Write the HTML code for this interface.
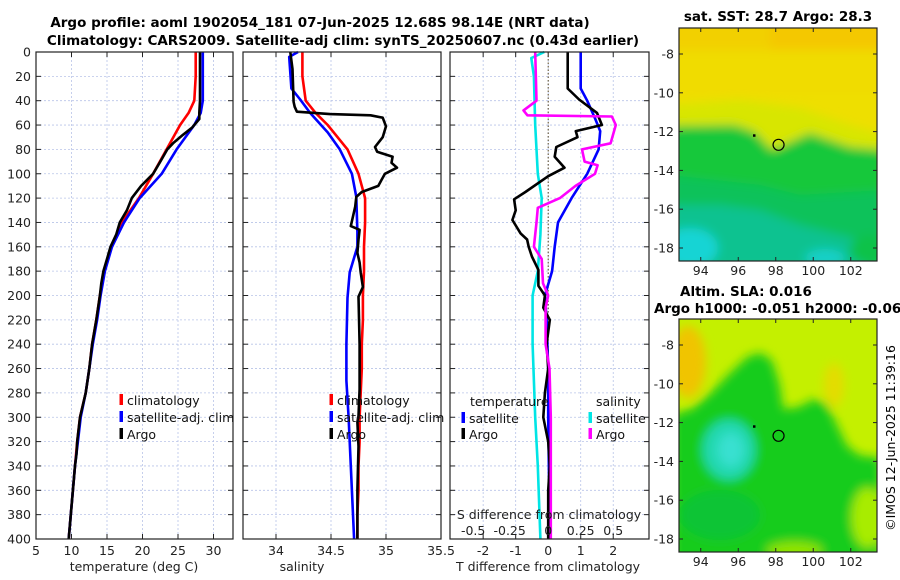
<!DOCTYPE html>
<html><head><meta charset="utf-8">
<style>
html,body{margin:0;padding:0;background:#fff;}
svg{display:block;font-family:"DejaVu Sans","Liberation Sans",sans-serif;}
</style></head>
<body>
<svg id="fig" width="900" height="580" viewBox="0 0 900 580" xmlns="http://www.w3.org/2000/svg">
<defs>
  <filter id="blur1" x="-20%" y="-20%" width="140%" height="140%"><feGaussianBlur stdDeviation="5"/></filter>
  <clipPath id="clipTop"><rect x="679" y="28" width="198" height="233"/></clipPath>
  <clipPath id="clipBot"><rect x="679" y="319" width="198" height="233"/></clipPath>
</defs>
<text x="320" y="27" text-anchor="middle" font-size="13.5" font-weight="bold">Argo profile: aoml 1902054_181 07-Jun-2025 12.68S 98.14E (NRT data)</text>
<text x="343" y="45" text-anchor="middle" font-size="13.5" font-weight="bold">Climatology: CARS2009. Satellite-adj clim: synTS_20250607.nc (0.43d earlier)</text>
<g id="plots"></g>
<g id="maps"></g>
<text transform="translate(895,438) rotate(-90)" text-anchor="middle" font-size="12.5">©IMOS 12-Jun-2025 11:39:16</text>
</svg>
<script>
// ---------- data ----------
const climDepth = [0,20,40,50,60,80,100,120,140,160,180,200,220,240,260,280,300,320,340,360,380,400];
const tempClim = [27.5,27.5,27.3,26.5,25.3,23.4,21.5,19.5,17.1,15.6,14.6,14.0,13.5,12.9,12.5,12.0,11.2,10.8,10.5,10.2,9.9,9.6];
const tempSat = [28.5,28.5,28.5,28.2,27.3,24.8,22.7,19.6,17.4,15.7,14.7,14.1,13.6,13.0,12.5,12.0,11.3,10.9,10.5,10.2,9.9,9.6];
const argoDepth = [0,10,20,30,40,50,55,62,68,75,80,90,100,110,120,130,140,150,160,170,180,190,200,220,240,260,280,300,310,320,330,340,360,380,400];
const tempArgo = [28.1,28.1,28.1,28.1,28.1,28.0,28.0,27.0,25.7,24.3,23.5,22.5,21.5,19.8,18.5,17.8,16.8,16.3,15.5,15.0,14.5,14.2,14.0,13.5,12.9,12.5,12.0,11.2,11.0,10.8,10.7,10.5,10.2,9.9,9.6];
const salClim = [34.24,34.24,34.27,34.36,34.47,34.65,34.75,34.81,34.81,34.80,34.80,34.79,34.79,34.78,34.78,34.77,34.76,34.76,34.75,34.75,34.74,34.74];
const salSatDepth = [0,4,30,39,50,66,80,100,119,148,160,181,202,240,270,300,340,400];
const salSat = [34.2,34.12,34.14,34.22,34.31,34.47,34.58,34.69,34.73,34.74,34.74,34.67,34.65,34.64,34.64,34.66,34.68,34.71];
const salArgoDepth = [0,14,41,45,49,51,52,54,61,70,78,82,86,91,95,100,105,110,115,119,127,135,143,146,154,165,173,181,193,201,240,269,277,299,304,324,360,400];
const salArgo = [34.13,34.15,34.16,34.17,34.19,34.49,34.86,34.97,35.0,34.97,34.9,34.92,35.06,35.05,35.1,34.99,34.96,34.93,34.78,34.73,34.72,34.70,34.68,34.76,34.75,34.74,34.76,34.77,34.79,34.75,34.76,34.76,34.76,34.75,34.74,34.75,34.74,34.74];
const tdArgoDepth = [0,30,39,50,60,65,70,78,86,95,102,115,121,130,138,149,154,160,168,179,192,200,210,220,240,260,280,300,320,340,360,400];
const tdArgo = [0.6,0.6,0.95,1.5,1.65,0.85,0.9,0.25,0.2,0.5,0,-0.7,-1.05,-1.0,-1.1,-0.85,-0.65,-0.6,-0.5,-0.3,-0.3,-0.1,-0.15,0.05,-0.05,0,-0.1,-0.15,0.0,0.05,0.0,0.0];
const tdSatDepth = [0,30,40,55,65,80,100,120,140,160,180,200,220,260,300,400];
const tdSat = [1.0,1.0,1.2,1.45,1.6,1.55,1.2,0.72,0.3,0.2,0.12,-0.1,-0.05,0,0.0,0.05];
const sdArgoDepth = [0,40,48,52,53,60,75,80,90,93,100,110,120,128,140,160,170,190,200,210,240,260,300,340,400];
const sdArgo = [-0.1,-0.09,-0.19,-0.16,0.49,0.52,0.48,0.26,0.28,0.38,0.36,0.21,0.09,-0.08,-0.09,-0.11,-0.05,-0.04,0,-0.02,-0.02,0.01,0.02,0.02,0.02];
const sdSatDepth = [0,5,20,60,100,120,150,180,200,240,300,340,400];
const sdSat = [-0.03,-0.13,-0.11,-0.1,-0.08,-0.05,-0.06,-0.08,-0.12,-0.12,-0.1,-0.08,-0.06];
const depthTicks = [0,20,40,60,80,100,120,140,160,180,200,220,240,260,280,300,320,340,360,380,400];
const tempTicks = [5,10,15,20,25,30];
const salTicks = [34,34.5,35,35.5];
const tdTicks = [-2,-1,0,1,2];
const sdTickLabels = ["-0.5","-0.25","0","0.25","0.5"];
const lonTicks = [94,96,98,100,102];
const latTicks = [-8,-10,-12,-14,-16,-18];
const argoPos = [98.15,-12.68];
const dotPos = [96.85,-12.2];
// SLA map green-region outline (lon, lat)
const slaGreenLon = [92.5,93.5,94.5,95.5,96.5,97.2,97.8,98.2,98.4,99.2,100,100.7,101.2,101.8,102.5,103.6,103.6,92.5];
const slaGreenLat = [-11.6,-11.3,-10.5,-9.5,-8.6,-8.4,-8.8,-10,-11.3,-11.2,-10.8,-11,-12,-13.2,-13.7,-13.8,-19.5,-19.5];

// ---------- helpers ----------
const NS = "http://www.w3.org/2000/svg";
const plots = document.getElementById('plots');
const maps = document.getElementById('maps');
function mk(tag, attrs, parent){ const e=document.createElementNS(NS,tag); for(const k in attrs) e.setAttribute(k,attrs[k]); parent.appendChild(e); return e; }
const yTop=52, yBot=539;
const yD = d => yTop + d*(yBot-yTop)/400;

function panel(x0,x1,xmin,xmax,name){
  const sx = v => x0 + (v-xmin)*(x1-x0)/(xmax-xmin);
  const g = mk('g',{},plots);
  
  
  mk('rect',{x:x0,y:yTop,width:x1-x0,height:yBot-yTop,fill:'#fff'},g);
  return {g,sx};
}
function grid(p,x0,x1,xt){
  depthTicks.forEach(d=>{
    const y=yD(d);
    mk('line',{x1:x0,x2:x1,y1:y,y2:y,stroke:'#b8c4e8','stroke-width':0.8,'stroke-dasharray':'2,2'},p.g);
    mk('line',{x1:x0,x2:x0+5,y1:y,y2:y,stroke:'#222','stroke-width':1},p.g);
    mk('line',{x1:x1-5,x2:x1,y1:y,y2:y,stroke:'#222','stroke-width':1},p.g);
  });
  xt.forEach(v=>{
    const x=p.sx(v);
    mk('line',{x1:x,x2:x,y1:yTop,y2:yBot,stroke:'#b8c4e8','stroke-width':0.8,'stroke-dasharray':'2,2'},p.g);
    mk('line',{x1:x,x2:x,y1:yBot-5,y2:yBot,stroke:'#222','stroke-width':1},p.g);
    mk('line',{x1:x,x2:x,y1:yTop,y2:yTop+5,stroke:'#222','stroke-width':1},p.g);
  });
}
function frame(p,x0,x1){ mk('rect',{x:x0,y:yTop,width:x1-x0,height:yBot-yTop,fill:'none',stroke:'#222','stroke-width':1.2},p.g); }
function series(p,depths,vals,color,name,scale){
  const pts = vals.map((v,i)=>p.sx(v*(scale||1)).toFixed(1)+','+yD(depths[i]).toFixed(1)).join(' ');
  const l = mk('polyline',{points:pts,fill:'none',stroke:color,'stroke-width':2.6,'stroke-linejoin':'round'},p.g);
  
  
}
function txt(parent,x,y,s,opts){ const t=mk('text',Object.assign({x:x,y:y,'font-size':12.5,fill:'#222'},opts||{}),parent); t.textContent=s; return t; }
function legendEntry(parent,x,y,color,label,name){
  const g=mk('g',{},parent);
  
  
  mk('rect',{x:x-1.5,y:y-11,width:3.5,height:11,fill:color},g);
  txt(g,x+6,y,label,{fill:'#111'});
}

// ---------- panel 1: temperature ----------
const p1 = panel(36,233,5,5+197/7.1,'temperature-panel');
grid(p1,36,233,tempTicks);
series(p1,climDepth,tempClim,'#ff0000','temp-climatology-line');
series(p1,climDepth,tempSat,'#0000ff','temp-satellite-line');
series(p1,argoDepth,tempArgo,'#000000','temp-argo-line');
frame(p1,36,233);
depthTicks.forEach(d=>{ const t=txt(plots,31,yD(d)+4.5,String(d),{'text-anchor':'end'});
    });
tempTicks.forEach(v=>txt(plots,p1.sx(v),555,String(v),{'text-anchor':'middle'}));
txt(plots,134,571,'temperature (deg C)',{'text-anchor':'middle'});
legendEntry(plots,121,405,'#ff0000','climatology','legend-climatology');
legendEntry(plots,121,422,'#0000ff','satellite-adj. clim','legend-satellite');
legendEntry(plots,121,439,'#000000','Argo','legend-argo');

// ---------- panel 2: salinity ----------
const p2 = panel(243,441,33.7,35.5,'salinity-panel');
grid(p2,243,441,salTicks);
series(p2,climDepth,salClim,'#ff0000','sal-climatology-line');
series(p2,salSatDepth,salSat,'#0000ff','sal-satellite-line');
series(p2,salArgoDepth,salArgo,'#000000','sal-argo-line');
frame(p2,243,441);
salTicks.forEach(v=>txt(plots,p2.sx(v),555,String(v),{'text-anchor':'middle'}));
txt(plots,302,571,'salinity',{'text-anchor':'middle'});
legendEntry(plots,331,405,'#ff0000','climatology','legend-sal-climatology');
legendEntry(plots,331,422,'#0000ff','satellite-adj. clim','legend-sal-satellite');
legendEntry(plots,331,439,'#000000','Argo','legend-sal-argo');

// ---------- panel 3: differences ----------
const p3 = panel(450,649,-3.02,3.1,'difference-panel');
grid(p3,450,649,tdTicks);
mk('line',{x1:p3.sx(0),x2:p3.sx(0),y1:yTop,y2:yBot,stroke:'#554422','stroke-width':1,'stroke-dasharray':'1.5,2'},p3.g);
series(p3,sdSatDepth,sdSat,'#00e5e5','sdiff-satellite-line',4);
series(p3,tdSatDepth,tdSat,'#0000ff','tdiff-satellite-line');
series(p3,tdArgoDepth,tdArgo,'#000000','tdiff-argo-line');
series(p3,sdArgoDepth,sdArgo,'#ff00ff','sdiff-argo-line',4);
txt(plots,470,406,'temperature',{fill:'#111'});
legendEntry(plots,463,423,'#0000ff','satellite','legend-t-satellite');
legendEntry(plots,463,439,'#000000','Argo','legend-t-argo');
txt(plots,596,406,'salinity',{fill:'#111'});
legendEntry(plots,590,423,'#00e5e5','satellite','legend-s-satellite');
legendEntry(plots,590,439,'#ff00ff','Argo','legend-s-argo');
txt(plots,549,519,'S difference from climatology',{'text-anchor':'middle'});
sdTickLabels.forEach((s,i)=>txt(plots,p3.sx(tdTicks[i])+(i===0?-10:i===1?-6:0),535,s,{'text-anchor':'middle'}));
frame(p3,450,649);
tdTicks.forEach(v=>txt(plots,p3.sx(v),555,String(v),{'text-anchor':'middle'}));
txt(plots,548,571,'T difference from climatology',{'text-anchor':'middle'});

// ---------- maps ----------
const mx = lon => 679 + (lon-92.84)*18.75;
function mapAxes(top,name){
  const my = lat => top + 26 + (-8-lat)*19.4;
  const g=mk('g',{},maps);
  
  
  return {g,my};
}
// top SST map
const m1 = mapAxes(28,'sst-map');
const c1 = mk('g',{'clip-path':'url(#clipTop)'},m1.g);
mk('rect',{x:679,y:28,width:198,height:233,fill:'#eedf00'},c1);
const b1 = mk('g',{filter:'url(#blur1)'},c1);
mk('rect',{x:760,y:20,width:125,height:30,fill:'#f4c800'},b1);
mk('rect',{x:670,y:20,width:100,height:30,fill:'#f2d000'},b1);
mk('rect',{x:670,y:50,width:215,height:45,fill:'#f0dc00'},b1);
mk('polygon',{points:'670,105 740,100 800,108 850,125 885,135 885,170 670,170',fill:'#d8e600'},b1);
mk('polygon',{points:'670,126 735,125 755,132 772,150 790,142 810,133 830,140 850,147 885,150 885,270 670,270',fill:'#14c83a'},b1);
mk('polygon',{points:'670,175 760,185 800,195 885,190 885,270 670,270',fill:'#0cc25a'},b1);
mk('polygon',{points:'670,205 720,205 760,210 800,225 860,240 870,270 670,270',fill:'#08c290'},b1);
mk('ellipse',{cx:690,cy:248,rx:28,ry:20,fill:'#18d4d4'},b1);
mk('ellipse',{cx:825,cy:258,rx:20,ry:9,fill:'#18d0c8'},b1);
mk('ellipse',{cx:870,cy:250,rx:20,ry:15,fill:'#08c248'},b1);
mk('rect',{x:679,y:28,width:198,height:233,fill:'none',stroke:'#222','stroke-width':1.2},m1.g);
// bottom SLA map
const m2 = mapAxes(319,'sla-map');
const c2 = mk('g',{'clip-path':'url(#clipBot)'},m2.g);
mk('rect',{x:679,y:319,width:198,height:233,fill:'#c4f000'},c2);
const b2 = mk('g',{filter:'url(#blur1)'},c2);
mk('ellipse',{cx:688,cy:362,rx:18,ry:36,fill:'#f0c400'},b2);
mk('ellipse',{cx:834,cy:385,rx:10,ry:22,fill:'#e4dc00'},b2);
const greenPts = slaGreenLon.map((lon,i)=>mx(lon).toFixed(1)+','+m2.my(slaGreenLat[i]).toFixed(1)).join(' ');
mk('polygon',{points:greenPts,fill:'#14cc1e'},b2);
mk('ellipse',{cx:mx(95.5),cy:m2.my(-13.4),rx:26,ry:30,fill:'#22d8b0'},b2);
mk('ellipse',{cx:mx(95.6),cy:m2.my(-13.4),rx:13,ry:17,fill:'#38e0d0'},b2);
mk('ellipse',{cx:720,cy:515,rx:40,ry:25,fill:'#08c436'},b2);
mk('ellipse',{cx:mx(102.9),cy:m2.my(-16.9),rx:16,ry:30,fill:'#a8ec00'},b2);
mk('ellipse',{cx:mx(99),cy:m2.my(-18.6),rx:28,ry:9,fill:'#90e400'},b2);
mk('rect',{x:679,y:319,width:198,height:233,fill:'none',stroke:'#222','stroke-width':1.2},m2.g);

[[m1,28],[m2,319]].forEach(([m,top])=>{
  const bot=top+233;
  lonTicks.forEach(l=>{
    const x=mx(l);
    mk('line',{x1:x,x2:x,y1:bot-4,y2:bot,stroke:'#222'},m.g);
    mk('line',{x1:x,x2:x,y1:top,y2:top+4,stroke:'#222'},m.g);
    txt(m.g,x,bot+14,String(l),{'text-anchor':'middle'});
  });
  latTicks.forEach(l=>{
    const y=m.my(l);
    mk('line',{x1:679,x2:683,y1:y,y2:y,stroke:'#222'},m.g);
    mk('line',{x1:873,x2:877,y1:y,y2:y,stroke:'#222'},m.g);
    txt(m.g,674,y+4.5,String(l),{'text-anchor':'end'});
  });
  const c=mk('circle',{cx:mx(argoPos[0]),cy:m.my(argoPos[1]),r:5.5,fill:'none',stroke:'#000','stroke-width':1.2},m.g);
  
  
  mk('rect',{x:mx(dotPos[0])-1.2,y:m.my(dotPos[1])-1.2,width:2.5,height:2.5,fill:'#000'},m.g);
});
txt(maps,778,21,'sat. SST: 28.7 Argo: 28.3',{'text-anchor':'middle','font-weight':'bold','font-size':13.5,fill:'#000'});
txt(maps,680,296,'Altim. SLA: 0.016',{'font-weight':'bold','font-size':13.5,fill:'#000'});
txt(maps,654,313,'Argo h1000: -0.051 h2000: -0.064',{'font-weight':'bold','font-size':13.5,fill:'#000'});
</script>
</body></html>
